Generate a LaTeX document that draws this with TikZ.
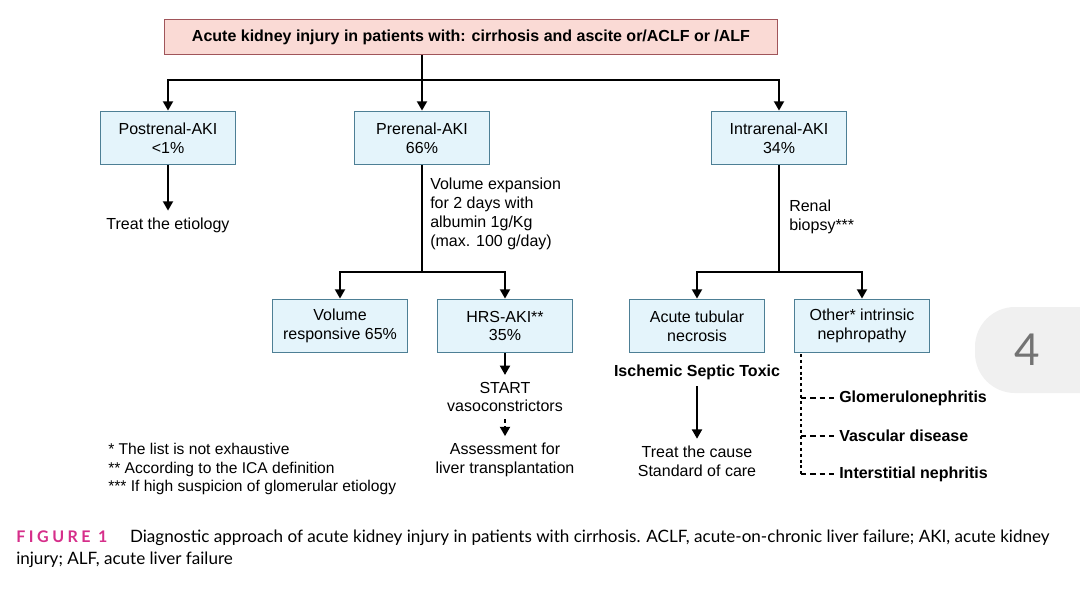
\documentclass[tikz,border=0pt]{standalone}
\usepackage{fontspec}
\setmainfont{Liberation Sans}
\newfontfamily\capfont{Lato}
\newfontfamily\capspaced{Lato}[LetterSpace=22]
\usetikzlibrary{arrows.meta}

\definecolor{pinkfill}{HTML}{FADAD5}
\definecolor{pinkline}{HTML}{A0555A}
\definecolor{bluefill}{HTML}{E4F4FB}
\definecolor{blueline}{HTML}{4D7F95}
\definecolor{figpink}{HTML}{D62E8A}
\definecolor{badgegray}{HTML}{F0F0F0}

\tikzset{
  kbox/.style={draw=blueline, fill=bluefill, line width=1.1pt, minimum width=101pt,
    minimum height=40pt, align=center, inner sep=0pt, font=\fontsize{12}{14.2}\selectfont},
  topbox/.style={draw=pinkline, fill=pinkfill, line width=1.1pt, minimum width=460pt,
    minimum height=26pt, inner sep=0pt, font=\fontsize{12}{14}\selectfont\bfseries},
  txt/.style={align=center, inner xsep=0pt, inner ysep=5pt, font=\fontsize{12}{14.2}\selectfont},
  ltxt/.style={align=left, inner sep=0pt, font=\fontsize{12}{14.2}\selectfont},
  btxt/.style={inner xsep=3pt, inner ysep=0pt, font=\fontsize{12}{14}\selectfont\bfseries},
  link/.style={line width=1.5pt},
  arr/.style={link, -{Triangle[length=7pt,width=7.5pt]}},
  dotline/.style={line width=1.5pt, dash pattern=on 2.2pt off 2.2pt},
  dashline/.style={line width=1.5pt, dash pattern=on 4pt off 3pt},
}

\begin{document}
\begin{tikzpicture}[x=0.75pt,y=-0.75pt]

\fill[white] (0,0) rectangle (1080,595);
\useasboundingbox (0,0) rectangle (1080,595);

% page badge
\fill[badgegray, rounded corners=30pt] (975,307) rectangle (1130,393);
\node[text=black!55, font=\capfont\fontsize{33}{33}\selectfont] (pagenum) at (1027,350) {4};

% top level
\node[topbox] (top) at (471,37) {Acute kidney injury in patients with: cirrhosis and ascite or/ACLF or /ALF};

\node[kbox] (post) at (168,138) {Postrenal-AKI\\<1\%};
\node[kbox] (pre) at (422,138) {Prerenal-AKI\\66\%};
\node[kbox] (intra) at (779,138) {Intrarenal-AKI\\34\%};

\coordinate (hub) at (422,80);
\draw[link] (pre |- top.south) -- (hub);
\draw[arr] (hub) -| (post);
\draw[arr] (hub) -- (pre);
\draw[arr] (hub) -| (intra);

% postrenal
\node[txt] (etio) at (168,225) {Treat the etiology};
\draw[arr] (post) -- (etio);

% prerenal
\node[ltxt, anchor=north west] (volexp) at (430,178) {Volume expansion\\for 2 days with\\albumin 1g/Kg\\(max. 100 g/day)};
\coordinate (prehub) at (422,272);
\draw[link] (pre) -- (prehub);

\node[kbox] (resp) at (340,326) {Volume\\responsive 65\%};
\node[kbox] (hrs) at (505,326) {HRS-AKI**\\35\%};
\draw[arr] (prehub) -| (resp);
\draw[arr] (prehub) -| (hrs);

\node[txt] (start) at (505,397) {START\\vasoconstrictors};
\node[txt] (assess) at (505,460) {Assessment for\\liver transplantation};
\draw[arr] (hrs) -- (start);
\draw[arr, dash pattern=on 3pt off 2.5pt] (start) -- (assess);

% intrarenal
\node[ltxt, anchor=west] (biopsy) at (789,217) {Renal\\biopsy***};
\coordinate (intrahub) at (779,272);
\draw[link] (intra) -- (intrahub);

\node[kbox] (atn) at (697,326) {Acute tubular\\necrosis};
\node[kbox] (other) at (862,326) {Other* intrinsic\\nephropathy};
\draw[arr] (intrahub) -| (atn);
\draw[arr] (intrahub) -| (other);

\node[txt, font=\fontsize{12}{14}\selectfont\bfseries] (cause) at (697,372) {Ischemic Septic Toxic};
\node[txt] (care) at (697,461) {Treat the cause\\Standard of care};
\draw[arr] (cause) -- (care);

\coordinate (dtop) at (801,354);
\node[btxt, anchor=west] (glom) at (835,398) {Glomerulonephritis};
\node[btxt, anchor=west] (vasc) at (835,436) {Vascular disease};
\node[btxt, anchor=west] (inter) at (835,474) {Interstitial nephritis};
\draw[dotline] (dtop) -- ([yshift=-2pt]dtop |- inter);
\draw[dashline] (dtop |- glom) -- (glom);
\draw[dashline] (dtop |- vasc) -- (vasc);
\draw[dashline] (dtop |- inter) -- (inter);

% footnotes
\node[ltxt, anchor=north west, font=\fontsize{11.7}{13.9}\selectfont] (notes) at (108,443)
  {* The list is not exhaustive\\
   ** According to the ICA definition\\
   *** If high suspicion of glomerular etiology};

% caption
\node[anchor=base west, inner sep=0pt, font=\capfont\fontsize{12.8}{16}\selectfont] (caption) at (16,542)
  {{\capspaced\fontsize{12}{16}\selectfont\bfseries\color{figpink}FIGURE 1}\hspace{17pt}Diagnostic approach of acute kidney injury in patients with cirrhosis. ACLF, acute-on-chronic liver failure; AKI, acute kidney};
\node[anchor=base west, inner sep=0pt, font=\capfont\fontsize{12.8}{16}\selectfont] (caption2) at (16,564)
  {injury; ALF, acute liver failure};

\end{tikzpicture}
\end{document}
